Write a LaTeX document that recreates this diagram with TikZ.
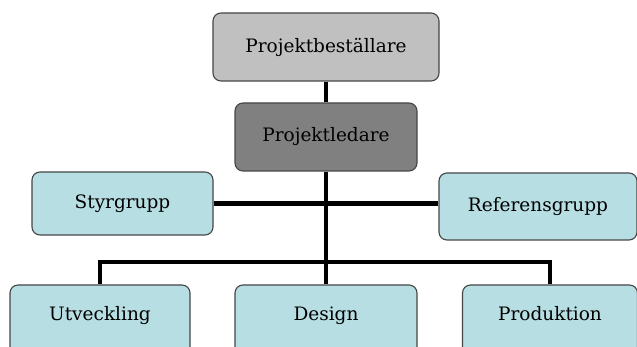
\documentclass[tikz,border=0pt]{standalone}
\usepackage{fontspec}
\setmainfont{DejaVu Serif}
\definecolor{boxline}{RGB}{70,70,70}
\definecolor{lgray}{RGB}{192,192,192}
\definecolor{dgray}{RGB}{128,128,128}
\definecolor{lcyan}{RGB}{183,222,227}
\begin{document}
\begin{tikzpicture}[x=1pt,y=-1pt,
  txt/.style={font=\fontsize{18.5}{20}\selectfont},
  orgbox/.style={draw=boxline,line width=1.1pt,rounded corners=8pt,inner sep=0pt,txt},
  conn/.style={line width=4.5pt,black}]
\useasboundingbox (0,0) rectangle (637,347);
\fill[white] (0,0) rectangle (637,347);
\node[orgbox,fill=lgray,minimum width=226pt,minimum height=68pt] (pb) at (326,47) {Projektbeställare};
\node[orgbox,fill=dgray,minimum width=182pt,minimum height=68pt] (pl) at (326,137) {Projektledare};
\node[orgbox,fill=lcyan,minimum width=181pt,minimum height=63pt] (sty) at (122.5,203.5) {Styrgrupp};
\node[orgbox,fill=lcyan,minimum width=198pt,minimum height=67pt] (ref) at (538,206.5) {Referensgrupp};
\node[orgbox,fill=lcyan,minimum width=180pt,minimum height=70pt] (utv) at (100,320) {};
\node[orgbox,fill=lcyan,minimum width=182pt,minimum height=70pt] (des) at (326,320) {};
\node[orgbox,fill=lcyan,minimum width=175pt,minimum height=70pt] (prod) at (550,320) {};
\node[txt,anchor=base] (utvt) at (100,320) {Utveckling};
\node[txt,anchor=base] (dest) at (326,320) {Design};
\node[txt,anchor=base] (prodt) at (550,320) {Produktion};
\coordinate (bus) at (326,262);
\draw[conn] (pb.south) -- (pl.north);
\draw[conn] (pl.south) -- (des.north);
\draw[conn] (sty.east) -- (sty.east -| ref.west);
\draw[conn] (utv.north) |- (bus) -| (prod.north);
\end{tikzpicture}
\end{document}
